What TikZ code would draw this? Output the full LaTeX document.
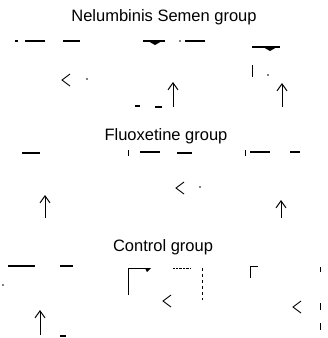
\documentclass[tikz,border=0pt]{standalone}
\usepackage{fontspec}
\setmainfont{Liberation Sans}
\usetikzlibrary{arrows.meta}
\begin{document}
\begin{tikzpicture}[x=1pt,y=-1pt,
  title/.style={font=\fontsize{16.5}{18}\selectfont,anchor=base,inner sep=0pt},
  dashline/.style={line width=1.2pt},
  chev/.style={line width=0.9pt},
  uparrow/.style={-{Straight Barb[length=7pt,width=10pt]},line width=1pt}]
  \useasboundingbox (0,0) rectangle (328,338);
  \node[title] (ns) at (164,21) {Nelumbinis Semen group};
  \node[title] (fx) at (166,140) {Fluoxetine group};
  \node[title] (ct) at (163,251) {Control group};
  % dashes
  \foreach \a/\b/\y in {15/18/41, 25/45/41, 63/80/41, 143/165/41, 185/205/41,
                        252/280/47, 135/140/106, 155/162/107,
                        22/40/153, 140/160/152, 177/192/153, 250/270/152, 290/300/152,
                        8/35/266, 60/73/266, 60/66/336}
    \draw[dashline] (\a,\y) -- (\b,\y);
  % thick marks
  \foreach \x/\y in {155/41, 270/47}
    \fill (\x-7,\y) -- (\x+7,\y) -- (\x,\y+4) -- cycle;
  % small ticks
  \foreach \x/\a/\b in {252/65/77, 128/150/156, 245/150/156,
                        320/267/272, 320/303/310, 320/323/330}
    \draw[chev] (\x,\a) -- (\x,\b);
  % dots
  \foreach \x/\y in {87/79, 268/75, 200/187, 3/285, 180/41}
    \fill (\x,\y) circle (0.8);
  % chevrons
  \foreach \x/\y in {62/80, 176/188, 163/301, 293/307}
    \draw[chev] (\x+8,\y-6) -- (\x,\y) -- (\x+8,\y+6);
  % up arrows
  \foreach \x/\a/\b in {173/107/82, 282/107/83, 45/218/195, 281/218/200, 40/335/310}
    \draw[uparrow] (\x,\a) -- (\x,\b);
  % corners
  \draw[chev] (128,295) -- (128,268) -- (150,268);
  \fill (145,268) -- (151,268) -- (147,272) -- cycle;
  \draw[chev] (250,278) -- (250,266) -- (258,266);
  \draw[dashed] (202,268) -- (202,300);
  \draw[densely dotted] (173,268) -- (190,268);
\end{tikzpicture}
\end{document}
